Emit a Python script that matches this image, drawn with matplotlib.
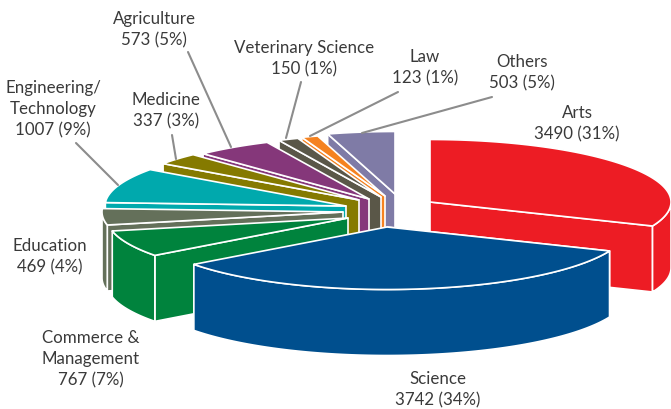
import numpy as np
import matplotlib
matplotlib.use("Agg")
import matplotlib.pyplot as plt
from matplotlib.patches import Polygon

categories = ["Arts", "Science", "Commerce &\nManagement", "Education", "Engineering/\nTechnology",
              "Medicine", "Agriculture", "Veterinary Science", "Law", "Others"]
values = [3490, 3742, 767, 469, 1007, 337, 573, 150, 123, 503]
percents = [31, 34, 7, 4, 9, 3, 5, 1, 1, 5]

colors = ["#ED1C24", "#004F8E", "#00833D", "#64705A", "#00A9AD",
          "#857A00", "#85377A", "#5A5748", "#F58220", "#7F7BA6"]
centers = [(430, 202), (387, 227), (348, 218), (343, 212), (346, 206),
           (359, 200), (369, 199), (381, 197), (385, 196), (395, 194)]
label_pos = [(577, 123.5), (438, 389.5), (91, 359), (50, 257), (53, 109),
             (166, 111), (154, 29.5), (304, 59), (425, 68), (522, 72.5)]
leaders = [None, None, None, None, ((76, 143), (118, 185)),
           ((172, 135), (176, 159)), ((188, 52), (231, 147)), ((301, 82), (286, 138)),
           ((398, 92), (310, 136)), ((492, 97), (362, 133))]
draw_order = [9, 8, 7, 6, 5, 4, 3, 2, 0, 1]

A, B, DEPTH = 241, 62.5, 66

plt.rcParams["font.family"] = ["Lato", "DejaVu Sans"]
fig = plt.figure(figsize=(6.71, 4.09), dpi=100)
ax = fig.add_axes([0, 0, 1, 1])
ax.set_xlim(0, 671)
ax.set_ylim(409, 0)
ax.axis("off")

v = np.array(values, dtype=float)
edges = np.concatenate([[0], np.cumsum(v) / v.sum() * 360])


def arc(c, t1, t2):
    t = np.radians(np.linspace(t1, t2, max(int(abs(t2 - t1) * 2), 2)))
    return np.column_stack([c[0] + A * np.sin(t), c[1] - B * np.cos(t)])


def face(pts, color, z):
    ax.add_patch(Polygon(pts, closed=True, facecolor=color, edgecolor="white",
                         linewidth=1.2, joinstyle="round", zorder=z))


down = np.array([0, DEPTH])
for z, i in enumerate(draw_order):
    t1, t2 = edges[i], edges[i + 1]
    c = np.array(centers[i], dtype=float)
    col = colors[i]
    # radial wall facing the viewer
    edge_t = t2 if t2 < 180 else t1
    if edge_t != 0 and t1 != 0 or t2 < 180:
        p = arc(c, edge_t, edge_t + 0.01)[0]
        face(np.array([c, p, p + down, c + down]), col, z * 3 + 1)
    # outer curved wall
    lo, hi = max(t1, 90), min(t2, 270)
    if hi > lo:
        top = arc(c, lo, hi)
        face(np.vstack([top, (top + down)[::-1]]), col, z * 3 + 2)
    # top surface
    face(np.vstack([c, arc(c, t1, t2)]), col, z * 3 + 3)

for i, seg in enumerate(leaders):
    if seg:
        ax.plot(*zip(*seg), color="#8C8C8C", lw=1.5, solid_capstyle="round", zorder=100)

for name, val, pct, (x, y) in zip(categories, values, percents, label_pos):
    ax.text(x, y, f"{name}\n{val} ({pct}%)", ha="center", va="center", fontsize=12.2,
            color="#3A3A3A", linespacing=1.4, zorder=101)

fig.savefig("out.png", dpi=100)
